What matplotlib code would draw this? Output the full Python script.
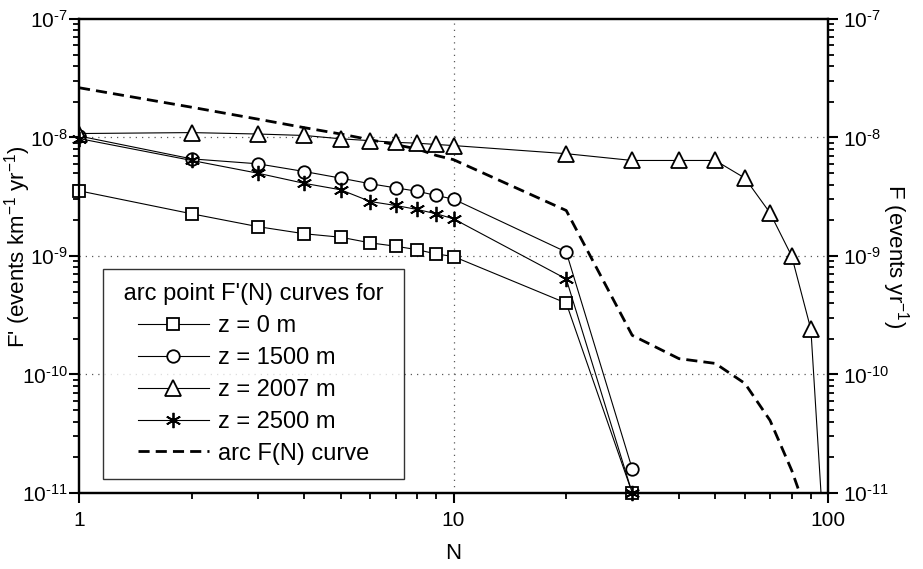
import matplotlib
matplotlib.use("Agg")
import matplotlib.pyplot as plt
from matplotlib.ticker import LogLocator, NullFormatter, FuncFormatter
import numpy as np

plt.rcParams["font.family"] = ["Liberation Sans", "DejaVu Sans"]
plt.rcParams["mathtext.fontset"] = "custom"
plt.rcParams["mathtext.rm"] = "Liberation Sans"
plt.rcParams["mathtext.it"] = "Liberation Sans:italic"
plt.rcParams["mathtext.bf"] = "Liberation Sans:bold"

# data
n_main = [1, 2, 3, 4, 5, 6, 7, 8, 9, 10, 20, 30]
f_z0 = [3.55e-9, 2.27e-9, 1.77e-9, 1.54e-9, 1.44e-9, 1.29e-9, 1.21e-9, 1.13e-9,
        1.04e-9, 9.9e-10, 4.0e-10, 1.0e-11]
f_z1500 = [1.03e-8, 6.6e-9, 6.0e-9, 5.16e-9, 4.54e-9, 4.07e-9, 3.76e-9, 3.52e-9,
           3.24e-9, 3.02e-9, 1.08e-9, 1.6e-11]
f_z2500 = [9.8e-9, 6.4e-9, 5.0e-9, 4.1e-9, 3.62e-9, 2.88e-9, 2.67e-9, 2.47e-9,
           2.27e-9, 2.06e-9, 6.4e-10, 1.0e-11]

n_2007 = [1, 2, 3, 4, 5, 6, 7, 8, 9, 10, 20, 30, 40, 50, 60, 70, 80, 90, 100]
f_z2007 = [1.08e-8, 1.1e-8, 1.07e-8, 1.04e-8, 9.75e-9, 9.4e-9, 9.1e-9, 8.95e-9,
           8.73e-9, 8.55e-9, 7.3e-9, 6.4e-9, 6.4e-9, 6.4e-9, 4.54e-9, 2.31e-9,
           9.96e-10, 2.4e-10, 1.1e-12]

n_arc = [1, 2, 3, 4, 5, 6, 7, 8, 9, 10, 20, 30, 40, 50, 60, 70, 80, 90]
f_arc = [2.63e-8, 1.8e-8, 1.43e-8, 1.21e-8, 1.07e-8, 9.56e-9, 8.7e-9, 8.0e-9,
         7.05e-9, 6.5e-9, 2.42e-9, 2.14e-10, 1.36e-10, 1.24e-10, 8.4e-11,
         4.1e-11, 1.55e-11, 5.4e-12]


def pow_label(v, pos):
    # hyphen instead of the long mathtext minus, like the original
    return r"10$^{\text{-%d}}$" % int(round(-np.log10(v)))


fig = plt.figure(figsize=(9.23, 5.69), dpi=100)
ax = fig.add_axes([0.0856, 0.1336, 0.8115, 0.8330])

line_kw = dict(color="black", lw=0.8, markerfacecolor="white",
               markeredgecolor="black", markeredgewidth=1.3)
ax.plot(n_main, f_z0, marker="s", ms=9, label="z = 0 m", clip_on=False, zorder=3, **line_kw)
ax.plot(n_main, f_z1500, marker="o", ms=9, label="z = 1500 m", zorder=3, **line_kw)
ax.plot(n_2007, f_z2007, marker="^", ms=11, label="z = 2007 m", zorder=3, **line_kw)
ax.plot(n_main, f_z2500, marker=(6, 2, 0), ms=11, label="z = 2500 m", clip_on=False,
        zorder=3, color="black", lw=0.8, markeredgewidth=1.3)
ax.plot(n_arc, f_arc, color="black", lw=2, ls=(0, (4, 2.2)), label="arc F(N) curve", zorder=2)

ax.set_xscale("log")
ax.set_yscale("log")
ax.set_xlim(1, 100)
ax.set_ylim(1e-11, 1e-7)

ax.set_xticks([1, 10, 100])
ax.set_xticklabels(["1", "10", "100"])
ax.xaxis.set_minor_locator(LogLocator(base=10, subs=range(2, 10)))
ax.xaxis.set_minor_formatter(NullFormatter())
ax.yaxis.set_major_formatter(FuncFormatter(pow_label))
ax.yaxis.set_minor_locator(LogLocator(base=10, subs=range(2, 10)))
ax.yaxis.set_minor_formatter(NullFormatter())

grid_kw = dict(color="0.35", lw=0.9, ls=(0, (1, 4)), zorder=1)
ax.axvline(10, **grid_kw)
for yv in [1e-8, 1e-9, 1e-10]:
    ax.axhline(yv, **grid_kw)

for s in ax.spines.values():
    s.set_linewidth(1.6)
ax.tick_params(which="major", direction="out", length=7, width=1.5, labelsize=15,
               top=False, right=False)
ax.tick_params(axis="y", which="major", pad=1)
ax.tick_params(axis="x", which="major", pad=6)
ax.tick_params(which="minor", direction="out", length=4, width=1.3, top=False, right=False)

ax.set_xlabel("N", fontsize=16, labelpad=9)
ax.set_ylabel("F' (events km$^{-1}$ yr$^{-1}$)", fontsize=16)
ax.yaxis.set_label_coords(-0.062, 0.52)

ax2 = ax.twinx()
ax2.set_yscale("log")
ax2.set_ylim(1e-11, 1e-7)
ax2.yaxis.set_major_formatter(FuncFormatter(pow_label))
ax2.yaxis.set_minor_locator(LogLocator(base=10, subs=range(2, 10)))
ax2.yaxis.set_minor_formatter(NullFormatter())
for s in ax2.spines.values():
    s.set_linewidth(1.6)
ax2.tick_params(which="major", direction="out", length=7, width=1.5, labelsize=15, pad=4)
ax2.tick_params(which="minor", direction="out", length=4, width=1.3)
ax2.set_ylabel("F (events yr$^{-1}$)", fontsize=16, rotation=270)
ax2.yaxis.set_label_coords(1.11, 0.5)

leg = ax.legend(loc="upper left", bbox_to_anchor=(0.032, 0.4726),
                title=" arc point F'(N) curves for ", fontsize=17, title_fontsize=17,
                alignment="center", frameon=True, fancybox=False, edgecolor="black",
                handlelength=3, handletextpad=0.4, labelspacing=0.42, borderpad=0.6,
                borderaxespad=0)
leg.get_frame().set_linewidth(1.0)
leg.set_zorder(5)

plt.savefig("out.png", dpi=100)
